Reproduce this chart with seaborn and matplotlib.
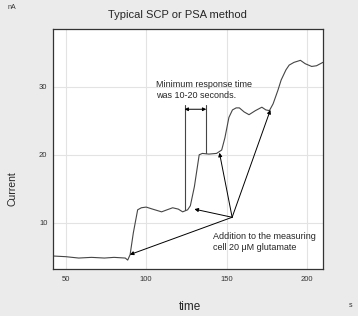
"""
Typical SCP or PSA method: current trace with stepwise glutamate additions.
"""

import numpy as np
import pandas as pd
import seaborn as sns
import matplotlib.pyplot as plt
from matplotlib.ticker import MultipleLocator

# trace (time in s, current in nA)
time_s = [42, 50, 58, 66, 74, 80, 87, 88.5, 90, 92, 94.7, 97, 100, 104, 109.6,
          113, 116.5, 120, 122.7, 125.8, 127.5, 130, 133, 135, 139, 143.8, 147,
          149, 151.5, 153.7, 156, 158, 161, 164, 168, 172, 174.5, 176.7, 179,
          182, 184, 187, 189, 192, 196, 199, 203, 206, 210]
current_na = [5.1, 5.0, 4.8, 4.9, 4.8, 4.9, 4.8, 4.5, 5.3, 8.5, 11.9, 12.2, 12.3,
              12.0, 11.6, 11.9, 12.2, 12.0, 11.6, 11.9, 12.5, 15.3, 20.0, 20.2,
              20.1, 20.2, 20.7, 22.5, 25.5, 26.6, 26.9, 26.9, 26.3, 25.9, 26.5,
              27.0, 26.6, 26.5, 27.5, 29.5, 31.0, 32.5, 33.2, 33.6, 33.9, 33.4,
              33.0, 33.1, 33.6]

# response-time markers
marker_times = [123.9, 137.4]
marker_bottoms = [11.9, 20.3]
marker_top = 27.3
span_level = 26.7

# arrows from the annotation point to each addition
arrow_origin = (153.5, 10.8)
arrow_targets = [(89.8, 5.3), (130.0, 12.0), (145.6, 20.3), (177.3, 26.6)]

df = pd.DataFrame({'time': time_s, 'current': current_na})

sns.set_style('white')
plt.rcParams['font.family'] = ['Liberation Sans', 'DejaVu Sans']

fig = plt.figure(figsize=(3.58, 3.16), dpi=100, facecolor='#ebebeb')
ax = fig.add_axes([0.148, 0.149, 0.754, 0.759])
ax.set_facecolor('white')

sns.lineplot(data=df, x='time', y='current', ax=ax, color='#454545', linewidth=0.8)

ax.set_xlim(42, 210)
ax.set_ylim(3.2, 38.5)

ax.xaxis.set_major_locator(MultipleLocator(50))
ax.xaxis.set_minor_locator(MultipleLocator(10))
ax.yaxis.set_major_locator(MultipleLocator(10))
ax.yaxis.set_minor_locator(MultipleLocator(5))
ax.tick_params(axis='x', which='major', direction='in', length=4, width=0.7,
               labelsize=5.5, pad=5, colors='#333333')
ax.tick_params(axis='x', which='minor', direction='in', length=2.5, width=0.6,
               colors='#333333')
ax.tick_params(axis='y', which='major', direction='out', length=3, width=0.7,
               labelsize=5.5, pad=1, colors='#333333')
ax.tick_params(axis='y', which='minor', direction='out', length=1.5, width=0.6,
               colors='#333333')
ax.grid(True, which='major', color='#e3e3e3', linewidth=0.8)

for spine in ax.spines.values():
    spine.set_visible(True)
    spine.set_color('#333333')
    spine.set_linewidth(0.9)

ax.set_xlabel('')
ax.set_ylabel('')

# minimum response time markers
for t, b in zip(marker_times, marker_bottoms):
    ax.plot([t, t], [b, marker_top], color='#454545', linewidth=0.8)
ax.annotate('', xy=(marker_times[0], span_level), xytext=(marker_times[1], span_level),
            arrowprops=dict(arrowstyle='<|-|>', color='black', lw=0.7,
                            mutation_scale=5, shrinkA=0, shrinkB=0))
ax.text(106, 30.4, 'Minimum response time', fontsize=6.5, va='center', ha='left')
ax.text(106, 28.7, 'was 10-20 seconds.', fontsize=6.5, va='center', ha='left')

for tx, ty in arrow_targets:
    ax.annotate('', xy=(tx, ty), xytext=arrow_origin,
                arrowprops=dict(arrowstyle='-|>', color='black', lw=0.7,
                                mutation_scale=5.5, shrinkA=0, shrinkB=0))
ax.text(141.3, 7.9, 'Addition to the measuring', fontsize=6.5, va='center', ha='left')
ax.text(141.3, 6.4, 'cell 20 \u03bcM glutamate', fontsize=6.5, va='center', ha='left')

fig.text(0.497, 0.952, 'Typical SCP or PSA method', fontsize=8, ha='center', va='center')
fig.text(0.034, 0.975, 'nA', fontsize=5, ha='center', va='center', color='#333333')
fig.text(0.53, 0.028, 'time', fontsize=8.5, ha='center', va='center')
fig.text(0.978, 0.032, 's', fontsize=5, ha='center', va='center', color='#333333')
fig.text(0.034, 0.402, 'Current', fontsize=7.5, ha='center', va='center', rotation=90)

fig.savefig('out.png', dpi=100, facecolor=fig.get_facecolor())
plt.close(fig)
